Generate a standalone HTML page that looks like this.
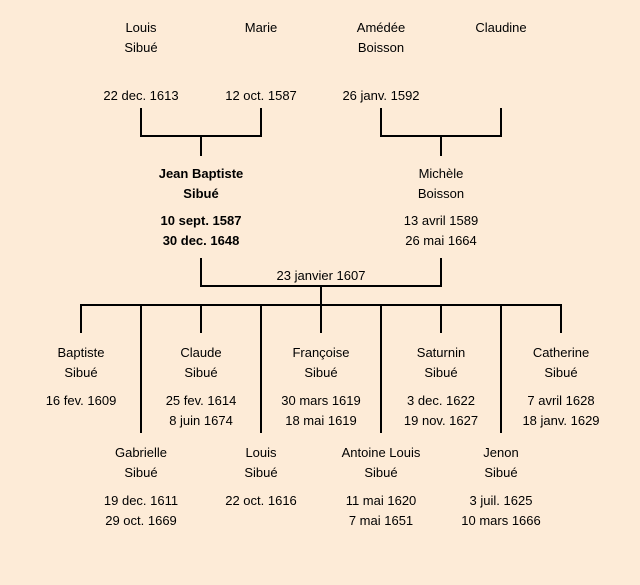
<!DOCTYPE html>
<html><head><meta charset="utf-8"><style>
body{margin:0;width:640px;height:585px;background:#fdebd7;font-family:"Liberation Sans",sans-serif;font-size:13px;color:#000;position:relative;overflow:hidden}
.t{position:absolute;width:120px;margin-left:-60px;text-align:center;line-height:20px;white-space:nowrap;transform:translateY(1px)}
.b{font-weight:bold}
.l{position:absolute;background:#000}
</style></head><body>
<div class="t" style="left:141px;top:17px">Louis<br>Sibué</div>
<div class="t" style="left:261px;top:17px">Marie</div>
<div class="t" style="left:381px;top:17px">Amédée<br>Boisson</div>
<div class="t" style="left:501px;top:17px">Claudine</div>
<div class="t" style="left:141px;top:85px">22 dec. 1613</div>
<div class="t" style="left:261px;top:85px">12 oct. 1587</div>
<div class="t" style="left:381px;top:85px">26 janv. 1592</div>

<div class="l" style="left:140px;top:108px;width:2px;height:29px"></div>
<div class="l" style="left:260px;top:108px;width:2px;height:29px"></div>
<div class="l" style="left:140px;top:135px;width:122px;height:2px"></div>
<div class="l" style="left:200px;top:135px;width:2px;height:21px"></div>
<div class="l" style="left:380px;top:108px;width:2px;height:29px"></div>
<div class="l" style="left:500px;top:108px;width:2px;height:29px"></div>
<div class="l" style="left:380px;top:135px;width:122px;height:2px"></div>
<div class="l" style="left:440px;top:135px;width:2px;height:21px"></div>

<div class="t b" style="left:201px;top:163px">Jean Baptiste<br>Sibué</div>
<div class="t b" style="left:201px;top:210px">10 sept. 1587<br>30 dec. 1648</div>
<div class="t" style="left:441px;top:163px">Michèle<br>Boisson</div>
<div class="t" style="left:441px;top:210px">13 avril 1589<br>26 mai 1664</div>

<div class="l" style="left:200px;top:258px;width:2px;height:29px"></div>
<div class="l" style="left:440px;top:258px;width:2px;height:29px"></div>
<div class="l" style="left:200px;top:285px;width:242px;height:2px"></div>
<div class="t" style="left:321px;top:265px">23 janvier 1607</div>
<div class="l" style="left:320px;top:285px;width:2px;height:21px"></div>
<div class="l" style="left:80px;top:304px;width:482px;height:2px"></div>
<div class="l" style="left:80px;top:304px;width:2px;height:29px"></div>
<div class="l" style="left:200px;top:304px;width:2px;height:29px"></div>
<div class="l" style="left:320px;top:304px;width:2px;height:29px"></div>
<div class="l" style="left:440px;top:304px;width:2px;height:29px"></div>
<div class="l" style="left:560px;top:304px;width:2px;height:29px"></div>
<div class="l" style="left:140px;top:304px;width:2px;height:129px"></div>
<div class="l" style="left:260px;top:304px;width:2px;height:129px"></div>
<div class="l" style="left:380px;top:304px;width:2px;height:129px"></div>
<div class="l" style="left:500px;top:304px;width:2px;height:129px"></div>

<div class="t" style="left:81px;top:342px">Baptiste<br>Sibué</div>
<div class="t" style="left:81px;top:390px">16 fev. 1609</div>
<div class="t" style="left:201px;top:342px">Claude<br>Sibué</div>
<div class="t" style="left:201px;top:390px">25 fev. 1614<br>8 juin 1674</div>
<div class="t" style="left:321px;top:342px">Françoise<br>Sibué</div>
<div class="t" style="left:321px;top:390px">30 mars 1619<br>18 mai 1619</div>
<div class="t" style="left:441px;top:342px">Saturnin<br>Sibué</div>
<div class="t" style="left:441px;top:390px">3 dec. 1622<br>19 nov. 1627</div>
<div class="t" style="left:561px;top:342px">Catherine<br>Sibué</div>
<div class="t" style="left:561px;top:390px">7 avril 1628<br>18 janv. 1629</div>

<div class="t" style="left:141px;top:442px">Gabrielle<br>Sibué</div>
<div class="t" style="left:141px;top:490px">19 dec. 1611<br>29 oct. 1669</div>
<div class="t" style="left:261px;top:442px">Louis<br>Sibué</div>
<div class="t" style="left:261px;top:490px">22 oct. 1616</div>
<div class="t" style="left:381px;top:442px">Antoine Louis<br>Sibué</div>
<div class="t" style="left:381px;top:490px">11 mai 1620<br>7 mai 1651</div>
<div class="t" style="left:501px;top:442px">Jenon<br>Sibué</div>
<div class="t" style="left:501px;top:490px">3 juil. 1625<br>10 mars 1666</div>
</body></html>
